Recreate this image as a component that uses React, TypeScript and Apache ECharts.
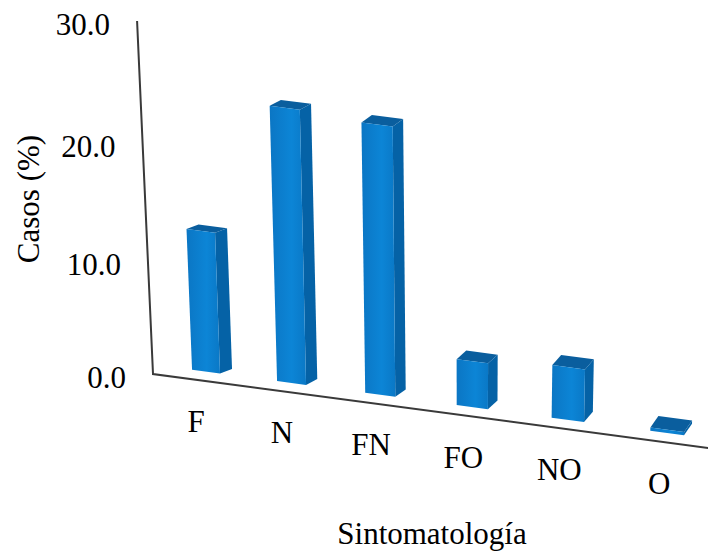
import React, { useEffect, useRef } from "react";
import * as echarts from "echarts";

const categories = ["F", "N", "FN", "FO", "NO", "O"];
const casos = [12.4, 23.7, 23.3, 4.1, 4.7, 0.3];
const yTicks = [0, 10, 20, 30];
const yMax = 30;
const xTitle = "Sintomatología";
const yTitle = "Casos (%)";

const FONT = '"Liberation Serif", "Times New Roman", serif';
const FONT_SIZE = 31;

// Flat plotting grid; its coordinates are sent through a perspective mapping below.
const GRID = { left: 100, top: 20, width: 500, height: 300 };

// Position along the floor for a normalised category position.
function floorX(q: number) {
  return 206 + (420 * q) / (1 - 0.0891 * q);
}
// Height in pixels for a normalised value, with foreshortening.
function riseOf(f: number) {
  const t = (f * yMax) / 10;
  return (110.8 * t) / (1 - 0.0194 * t);
}
// Vertical edges fan out slightly as they rise, away from x = 460.
function project(q: number, f: number, inset: number): [number, number] {
  const bx = floorX(q);
  const by = 374 + 0.1333 * (bx - 153) - inset;
  const h = riseOf(f);
  return [bx - ((460 - bx) * h) / 6800, by - h];
}

const BAR_INSET = 9.5;
const HALF_BAR = 0.0333;

function renderBar(params: any, api: any) {
  const c = api.coord([api.value(0), api.value(1)]);
  const q = (c[0] - GRID.left) / GRID.width;
  const f = (GRID.top + GRID.height - c[1]) / GRID.height;
  const dx = 12 - 4 * q;
  const dy = -(4.5 + 7 * q);
  const back = (p: [number, number]): [number, number] => [p[0] + dx, p[1] + dy];
  const bl = project(q - HALF_BAR, 0, BAR_INSET);
  const br = project(q + HALF_BAR, 0, BAR_INSET);
  const tl = project(q - HALF_BAR, f, BAR_INSET);
  const tr = project(q + HALF_BAR, f, BAR_INSET);
  const frontFill = new echarts.graphic.LinearGradient(0, 0, 1, 0, [
    { offset: 0, color: "#0b76c4" },
    { offset: 0.6, color: "#0c85d6" },
    { offset: 1, color: "#0a78c6" },
  ]);
  return {
    type: "group",
    children: [
      {
        type: "polygon",
        shape: { points: [br, back(br), back(tr), tr] },
        style: { fill: "#0562a6" },
      },
      {
        type: "polygon",
        shape: { points: [tl, tr, back(tr), back(tl)] },
        style: { fill: "#0a5e9e" },
      },
      {
        type: "polygon",
        shape: { points: [bl, br, tr, tl] },
        style: { fill: frontFill },
      },
    ],
  };
}

function buildGraphics() {
  const font = `${FONT_SIZE}px ${FONT}`;
  const origin = project(-0.1276, 0, 0);
  const top = project(-0.1276, 1, 0);
  const end = project(1.081, 0, 0);
  const elements: any[] = [
    {
      type: "polyline",
      shape: { points: [top, origin, end] },
      style: { stroke: "#3a3a3a", lineWidth: 2, fill: "none" },
    },
  ];
  yTicks.forEach((v) => {
    const p = project(-0.1276, v / yMax, 0);
    elements.push({
      type: "text",
      style: {
        text: v.toFixed(1),
        x: p[0] - 27,
        y: p[1] + 3,
        align: "right",
        verticalAlign: "middle",
        font,
        fill: "#000",
      },
    });
  });
  categories.forEach((name, i) => {
    const p = project(i / (categories.length - 1), 0, BAR_INSET);
    elements.push({
      type: "text",
      style: {
        text: name,
        x: p[0] - 10 + i * 0.4,
        y: p[1] + 50,
        align: "center",
        verticalAlign: "middle",
        font,
        fill: "#000",
      },
    });
  });
  elements.push({
    type: "text",
    style: { text: xTitle, x: 432, y: 533, align: "center", verticalAlign: "middle", font, fill: "#000" },
  });
  elements.push({
    type: "text",
    x: 28,
    y: 199,
    rotation: Math.PI / 2,
    style: { text: yTitle, x: 0, y: 0, align: "center", verticalAlign: "middle", font, fill: "#000" },
  });
  return elements;
}

export default function App() {
  const ref = useRef<HTMLDivElement>(null);
  useEffect(() => {
    const chart = echarts.init(ref.current!, undefined, { renderer: "svg" });
    chart.setOption({
      animation: false,
      backgroundColor: "#fff",
      grid: GRID,
      xAxis: { type: "category", data: categories, boundaryGap: false, show: false },
      yAxis: { type: "value", min: 0, max: yMax, interval: 10, show: false },
      graphic: buildGraphics(),
      series: [
        {
          type: "custom",
          renderItem: renderBar,
          clip: false,
          data: categories.map((_, i) => [i, casos[i]]),
          encode: { x: 0, y: 1 },
        },
      ],
    });
    return () => chart.dispose();
  }, []);
  return <div ref={ref} style={{ position: "absolute", left: 0, top: 0, width: 708, height: 554 }} />;
}
